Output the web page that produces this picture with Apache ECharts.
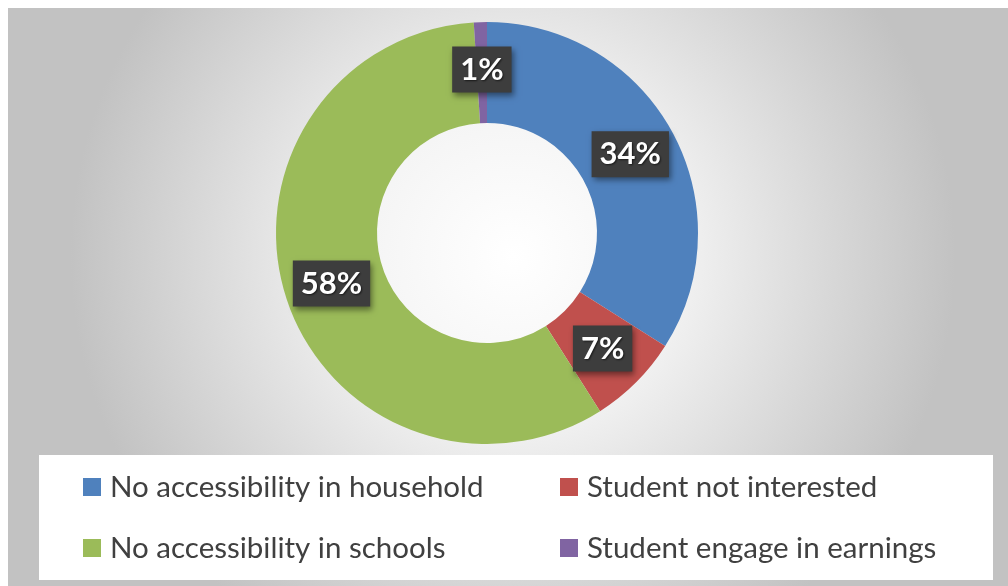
<!DOCTYPE html>
<html>
<head>
<meta charset="utf-8">
<script src="https://cdn.jsdelivr.net/npm/echarts@6/dist/echarts.min.js"></script>
<style>
  html, body { margin: 0; padding: 0; background: #fff; }
  #chart { width: 1008px; height: 586px; }
</style>
</head>
<body>
<div id="chart"></div>
<script>
// Reasons for lack of access, share of responses (%)
const categories = [
  'No accessibility in household',
  'Student not interested',
  'No accessibility in schools',
  'Student engage in earnings'
];
const shares = [34, 7, 58, 1];
const sliceColors = ['#4F81BD', '#C0504D', '#9BBB59', '#8064A2'];

const pieData = categories.map((name, i) => ({
  name: name,
  value: shares[i],
  itemStyle: { color: sliceColors[i] }
}));

const chart = echarts.init(document.getElementById('chart'), null, { renderer: 'canvas' });

const legendText = {
  fontFamily: 'Lato',
  fontSize: 29.5,
  color: '#404040',
  padding: [0, 0, 0, 4]
};

const legendBase = {
  orient: 'vertical',
  top: 472,
  itemWidth: 18,
  itemHeight: 18,
  itemGap: 31,
  icon: 'rect',
  padding: 0,
  textStyle: legendText
};

chart.setOption({
  animation: false,
  graphic: [
    {
      type: 'rect',
      z: -10,
      shape: { x: 8, y: 8, width: 1010, height: 590 },
      style: {
        fill: new echarts.graphic.RadialGradient(0.5, 0.42, 0.75, [
          { offset: 0, color: '#ffffff' },
          { offset: 0.35, color: '#f4f4f4' },
          { offset: 1, color: '#c2c2c2' }
        ])
      }
    },
    {
      type: 'rect',
      z: -5,
      shape: { x: 39, y: 455, width: 954, height: 125 },
      style: { fill: '#ffffff' }
    }
  ],
  legend: [
    Object.assign({}, legendBase, { data: [categories[0], categories[2]], left: 83 }),
    Object.assign({}, legendBase, { data: [categories[1], categories[3]], left: 560 })
  ],
  series: [
    {
      type: 'pie',
      center: [487, 233],
      radius: [110, 211],
      startAngle: 90,
      clockwise: true,
      avoidLabelOverlap: false,
      data: pieData,
      label: {
        show: true,
        position: 'inside',
        formatter: '{c}%',
        color: '#ffffff',
        fontFamily: 'Lato',
        fontWeight: 'bold',
        fontSize: 31,
        backgroundColor: '#3d3d3d',
        padding: [8, 8, 7, 8],
        textShadowColor: 'rgba(0,0,0,0.6)',
        textShadowBlur: 2,
        textShadowOffsetX: 1,
        textShadowOffsetY: 1,
        shadowColor: 'rgba(0,0,0,0.45)',
        shadowBlur: 6,
        shadowOffsetX: 2,
        shadowOffsetY: 3
      },
      labelLine: { show: false },
      emphasis: { disabled: true }
    }
  ]
});
</script>
</body>
</html>
